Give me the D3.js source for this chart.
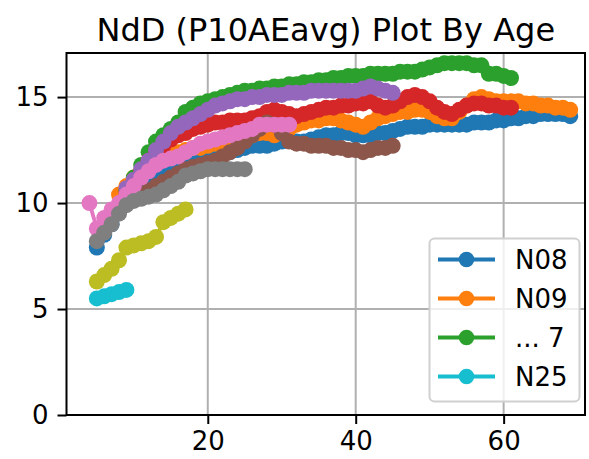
<!DOCTYPE html>
<html>
<head>
<meta charset="utf-8">
<script src="https://cdn.jsdelivr.net/npm/d3@7"></script>
<style>
  body { margin: 0; background: #fff; }
  svg { display: block; font-family: "DejaVu Sans", sans-serif; }
</style>
</head>
<body>
<svg id="plot" width="589" height="459"></svg>
<script>
// series names, colours (tab10) and start age; one value per year of age
const names = ["N08", "N09", "s3", "s4", "s5", "s6", "s7", "s8", "s9", "N25"];
const colors = ["#1f77b4", "#ff7f0e", "#2ca02c", "#d62728", "#9467bd",
                "#8c564b", "#e377c2", "#7f7f7f", "#bcbd22", "#17becf"];
const startAges = [5, 8, 9, 9, 9, 9, 4, 5, 5, 5];

const n08 = [7.9, 8.5, 9.0, 9.6, 10.1, 10.5, 10.8, 11.1, 11.3, 11.5, 11.6, 11.8, 11.9, 12.0, 12.1,
  12.2, 12.3, 12.3, 12.4, 12.5, 12.6, 12.7, 12.7, 12.7, 12.8, 12.9, 13.0, 12.9, 12.9, 13.0, 13.1,
  13.2, 13.2, 13.3, 13.3, 13.2, 13.2, 13.2, 13.3, 13.3, 13.4, 13.5, 13.6, 13.6, 13.6, 13.7, 13.7,
  13.7, 13.7, 13.7, 13.7, 13.8, 13.8, 13.8, 13.9, 13.9, 14.0, 14.0, 14.1, 14.1, 14.2, 14.2, 14.2,
  14.2, 14.1];
const n09 = [10.4, 10.8, 11.2, 11.5, 11.8, 12.0, 12.2, 12.3, 12.4, 12.5, 12.6, 12.6, 12.7, 12.8,
  12.9, 13.0, 13.0, 13.1, 13.2, 13.3, 13.3, 13.2, 13.3, 13.5, 13.7, 13.8, 13.9, 13.9, 14.0, 14.0,
  13.9, 13.8, 13.7, 13.6, 13.8, 14.0, 14.1, 14.2, 14.3, 14.3, 14.4, 14.4, 14.3, 14.1, 14.0, 14.0,
  14.3, 14.6, 14.9, 15.0, 14.9, 14.8, 14.8, 14.8, 14.8, 14.7, 14.7, 14.6, 14.6, 14.5, 14.5, 14.4];
const s3 = [10.6, 11.2, 11.8, 12.4, 12.9, 13.2, 13.5, 13.8, 14.3, 14.5, 14.7, 14.8, 14.9, 15.0,
  15.1, 15.2, 15.3, 15.3, 15.4, 15.4, 15.5, 15.5, 15.6, 15.6, 15.7, 15.7, 15.8, 15.8, 15.9, 15.9,
  16.0, 16.0, 16.0, 16.1, 16.1, 16.1, 16.1, 16.2, 16.2, 16.2, 16.3, 16.4, 16.5, 16.6, 16.6, 16.6,
  16.6, 16.5, 16.5, 16.1, 16.1, 16.0, 15.9];
const s4 = [10.5, 11.0, 11.5, 12.0, 12.4, 12.7, 13.0, 13.2, 13.3, 13.5, 13.6, 13.7, 13.8, 13.8,
  13.9, 13.9, 13.9, 14.0, 14.1, 14.3, 14.4, 14.3, 14.2, 14.1, 14.2, 14.3, 14.4, 14.5, 14.5, 14.6,
  14.6, 14.7, 14.7, 14.8, 14.6, 14.5, 14.6, 14.8, 15.0, 15.1, 15.0, 14.8, 14.5, 14.3, 14.2, 14.4,
  14.6, 14.7, 14.7, 14.6, 14.6, 14.5, 14.5];
const s5 = [10.7, 11.1, 11.6, 12.0, 12.5, 12.9, 13.3, 13.6, 13.8, 14.0, 14.2, 14.4, 14.6, 14.7,
  14.8, 14.9, 14.9, 15.0, 15.0, 15.1, 15.1, 15.1, 15.2, 15.2, 15.2, 15.3, 15.3, 15.3, 15.3, 15.3,
  15.3, 15.3, 15.4, 15.5, 15.4, 15.3, 15.2];
const s6 = [10.0, 10.2, 10.4, 10.6, 10.8, 11.0, 11.2, 11.4, 11.6, 11.7, 11.8, 11.9, 12.0, 12.2,
  12.4, 12.6, 12.9, 13.2, 13.5, 13.8, 13.7, 13.3, 12.9, 12.8, 12.8, 12.7, 12.7, 12.7, 12.6, 12.6,
  12.5, 12.5, 12.4, 12.5, 12.6, 12.6, 12.7];
const s7 = [10.0, 8.8, 9.3, 9.7, 10.0, 10.4, 10.8, 11.2, 11.5, 11.8, 12.0, 12.1, 12.2, 12.4, 12.6,
  12.8, 12.9, 13.0, 13.1, 13.2, 13.3, 13.4, 13.5, 13.7, 13.7, 13.7, 13.7, 13.7];
const s8 = [8.2, 8.6, 9.0, 9.5, 9.9, 10.1, 10.2, 10.3, 10.4, 10.6, 10.8, 11.0, 11.3, 11.4, 11.5,
  11.6, 11.6, 11.6, 11.6, 11.6, 11.6];
const s9 = [6.3, 6.6, 6.9, 7.3, 7.9, 8.0, 8.1, 8.2, 8.4, 9.1, 9.3, 9.5, 9.7];
const n25 = [5.5, 5.6, 5.7, 5.8, 5.9];

const seriesValues = [n08, n09, s3, s4, s5, s6, s7, s8, s9, n25];

const xTicks = [20, 40, 60];
const yTicks = [0, 5, 10, 15];
const legendLabels = ["N08", "N09", "... 7", "N25"];
const legendColors = ["#1f77b4", "#ff7f0e", "#2ca02c", "#17becf"];

const series = seriesValues.map((vals, k) => ({
  name: names[k],
  color: colors[k],
  points: vals.map((v, i) => ({age: startAges[k] + i, val: v}))
}));

const svg = d3.select("#plot");
const pLeft = 66.5, pRight = 585, pTop = 53, pBottom = 415;

const x = d3.scaleLinear().domain([0.9, 71]).range([pLeft, pRight]);
const y = d3.scaleLinear().domain([0, 17.08]).range([pBottom, pTop]);

svg.append("defs").append("clipPath").attr("id", "clip")
  .append("rect").attr("x", pLeft).attr("y", pTop)
  .attr("width", pRight - pLeft).attr("height", pBottom - pTop);

// grid
const grid = svg.append("g").attr("stroke", "#b0b0b0").attr("stroke-width", 2);
grid.selectAll(".gx").data(xTicks).enter().append("line")
  .attr("x1", d => x(d)).attr("x2", d => x(d)).attr("y1", pTop).attr("y2", pBottom);
grid.selectAll(".gy").data(yTicks).enter().append("line")
  .attr("x1", pLeft).attr("x2", pRight).attr("y1", d => y(d)).attr("y2", d => y(d));

// data
const line = d3.line().x(d => x(d.age)).y(d => y(d.val));
const plot = svg.append("g").attr("clip-path", "url(#clip)");
series.forEach(s => {
  const g = plot.append("g");
  g.append("path").datum(s.points)
    .attr("d", line).attr("fill", "none")
    .attr("stroke", s.color).attr("stroke-width", 3.9)
    .attr("stroke-linejoin", "round");
  g.selectAll("circle").data(s.points).enter().append("circle")
    .attr("cx", d => x(d.age)).attr("cy", d => y(d.val))
    .attr("r", 8).attr("fill", s.color);
});

// axes
const xAxis = svg.append("g").attr("transform", `translate(0,${pBottom})`)
  .call(d3.axisBottom(x).tickValues(xTicks).tickSize(9).tickPadding(8));
const yAxis = svg.append("g").attr("transform", `translate(${pLeft},0)`)
  .call(d3.axisLeft(y).tickValues(yTicks).tickSize(9).tickPadding(9));
[xAxis, yAxis].forEach(a => {
  a.select(".domain").remove();
  a.selectAll("line").attr("stroke", "#000").attr("stroke-width", 2);
  a.selectAll("text").attr("font-size", 26).attr("fill", "#000")
    .attr("font-family", "DejaVu Sans");
});

// spines
svg.append("rect").attr("x", pLeft).attr("y", pTop)
  .attr("width", pRight - pLeft).attr("height", pBottom - pTop)
  .attr("fill", "none").attr("stroke", "#000").attr("stroke-width", 2);

// title
svg.append("text").attr("x", (pLeft + pRight) / 2).attr("y", 41)
  .attr("text-anchor", "middle").attr("font-size", 32)
  .text("NdD (P10AEavg) Plot By Age");

// legend
const lg = svg.append("g");
lg.append("rect").attr("x", 429.5).attr("y", 238.5)
  .attr("width", 150).attr("height", 163).attr("rx", 5)
  .attr("fill", "#fff").attr("fill-opacity", 0.8)
  .attr("stroke", "#d0d0d0").attr("stroke-width", 2);
legendLabels.forEach((lab, i) => {
  const yy = 259.5 + i * 39;
  lg.append("line").attr("x1", 438).attr("x2", 495).attr("y1", yy).attr("y2", yy)
    .attr("stroke", legendColors[i]).attr("stroke-width", 3.9);
  lg.append("circle").attr("cx", 466.5).attr("cy", yy).attr("r", 7.8)
    .attr("fill", legendColors[i]);
  lg.append("text").attr("x", 515).attr("y", yy + 9.5)
    .attr("font-size", 26).text(lab);
});
</script>
</body>
</html>
